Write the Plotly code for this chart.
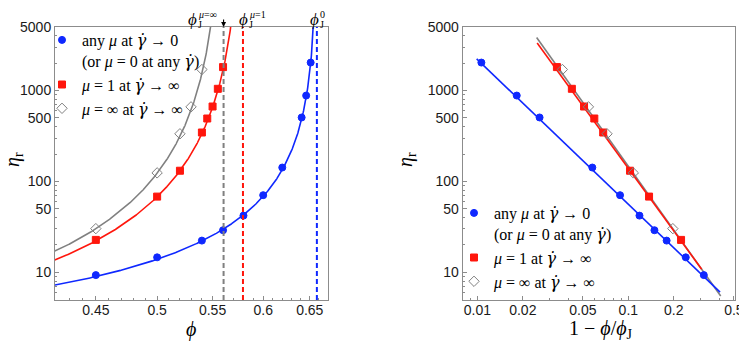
import numpy as np
import plotly.graph_objects as go

# measured points (volume fraction phi, relative viscosity eta_r)
phi_blue = [0.45, 0.50, 0.54, 0.56, 0.58, 0.60, 0.62, 0.641, 0.646, 0.651]
eta_blue = [9.3, 14.6, 22.3, 29, 42, 70.5, 142, 505, 880, 2030]
phi_red = [0.45, 0.50, 0.52, 0.54, 0.545, 0.55, 0.555, 0.56]
eta_red = [22.7, 68, 131, 345, 492, 667, 1044, 1811]
phi_grey = [0.45, 0.50, 0.52, 0.53, 0.54]
eta_grey = [30.2, 124, 334, 661, 1703]

# jamming fractions and power-law fits  eta = A (1 - phi/phiJ)^-beta
phiJ = {"blue": 0.658, "red": 0.5795, "grey": 0.5605}
fit_A = {"blue": 1.43, "red": 0.72, "grey": 0.68}
fit_beta = {"blue": 1.593, "red": 2.286, "grey": 2.334}
fit_xrange = {"blue": [0.0099, 0.405], "red": [0.0249, 0.306], "grey": [0.0247, 0.409]}

colors = {"blue": "rgb(15,40,255)", "red": "rgb(255,22,12)", "grey": "rgb(128,128,128)"}

gd = '<span style="font-family:DejaVu Serif">γ̇</span>'
labels = {
    "blue": f"any <i>μ</i> at <i>{gd}</i> → 0<br>(or <i>μ</i> = 0 at any <i>{gd}</i>)",
    "red": f"<i>μ</i> = 1 at <i>{gd}</i> → ∞",
    "grey": f"<i>μ</i> = ∞ at <i>{gd}</i> → ∞",
}

x_ticks_left = [0.45, 0.5, 0.55, 0.6, 0.65]
x_ticks_right = [0.01, 0.02, 0.05, 0.1, 0.2, 0.5]
y_ticks = [10, 50, 100, 500, 1000, 5000]

points = {"blue": (phi_blue, eta_blue), "red": (phi_red, eta_red), "grey": (phi_grey, eta_grey)}
symbols = {"blue": "circle", "red": "square", "grey": "diamond-open"}

# the page body has an 8px margin, so the figure is sized to the remaining window
OFF = 8
W, H = 747 - OFF, 341 - OFF


def px(x):
    return (x - OFF) / W


def py(y):
    return 1 - (y - OFF) / H


fig = go.Figure()


def fit(key, x):
    return fit_A[key] * np.asarray(x) ** (-fit_beta[key])


# fit curves
for key in ["grey", "red", "blue"]:
    phi = np.linspace(0.41, phiJ[key] * 0.9995, 600)
    fig.add_trace(go.Scatter(x=phi, y=fit(key, 1 - phi / phiJ[key]), mode="lines",
                             line=dict(color=colors[key], width=1.6), showlegend=False,
                             xaxis="x", yaxis="y"))
    xr = np.array(fit_xrange[key])
    fig.add_trace(go.Scatter(x=xr, y=fit(key, xr), mode="lines",
                             line=dict(color=colors[key], width=1.6), showlegend=False,
                             xaxis="x2", yaxis="y2"))

# data markers
for key in ["blue", "red", "grey"]:
    phi, eta = points[key]
    mk = dict(symbol=symbols[key], color=colors[key], size=7 if key != "grey" else 8,
              line=dict(width=1, color=colors[key]))
    fig.add_trace(go.Scatter(x=phi, y=eta, mode="markers", marker=mk, name=labels[key],
                             legend="legend", xaxis="x", yaxis="y"))
    xs = [1 - p / phiJ[key] for p in phi]
    fig.add_trace(go.Scatter(x=xs, y=eta, mode="markers", marker=mk, name=labels[key],
                             legend="legend2", xaxis="x2", yaxis="y2"))

# jamming-point dashed lines
for key in ["grey", "red", "blue"]:
    fig.add_shape(type="line", xref="x", yref="y domain", x0=phiJ[key], x1=phiJ[key],
                  y0=0, y1=1, line=dict(color=colors[key], width=2, dash="5px,3px"))

# bent arrow to phi_J^{mu=inf}
fig.add_annotation(x=np.log10(phiJ["grey"]), y=1, xref="x", yref="y domain", ax=0, ay=-9,
                   showarrow=True, arrowhead=2, arrowsize=0.9, arrowwidth=1.1,
                   arrowcolor="black", text="")
fig.add_shape(type="line", xref="x", yref="y domain", xsizemode="pixel", ysizemode="pixel",
              xanchor=phiJ["grey"], yanchor=1, x0=-12, x1=0, y0=10, y1=10,
              line=dict(color="black", width=1.1))

serif = "Liberation Serif"


def txt(xpx, ypx, text, size, **kw):
    fig.add_annotation(x=px(xpx), y=py(ypx), xref="paper", yref="paper",
                       text=text, showarrow=False, xanchor=kw.pop("xanchor", "left"),
                       yanchor="middle", font=dict(family=serif, size=size, color="black"),
                       borderpad=0, **kw)


# phi_J labels on top of the left panel
for xphi, sup in [(187, "<i>μ</i>=∞"), (238, "<i>μ</i>=1"), (309, "0")]:
    txt(xphi, 19, "<i>ϕ</i>", 17)
    txt(xphi + 10, 15, sup, 10)
    txt(xphi + 10, 24, "J", 10)

# axis titles
txt(14, 160, "<i>η</i><sub>r</sub>", 20, textangle=-90, xanchor="center")
txt(407, 160, "<i>η</i><sub>r</sub>", 20, textangle=-90, xanchor="center")
txt(191, 329, "<i>ϕ</i>", 20, xanchor="center")
txt(601, 329, "1 − <i>ϕ</i>/<i>ϕ</i><sub>J</sub>", 20, xanchor="center")

tickfont = dict(family="Liberation Sans", size=14, color="#1a1a1a")
frame = dict(showline=True, linecolor="#8c8c8c", linewidth=1, mirror=True, showgrid=False,
             zeroline=False, ticks="inside", ticklen=4, tickcolor="#8c8c8c", tickfont=tickfont,
             automargin=False)

minor_left = [round(0.42 + 0.01 * i, 2) for i in range(26)]
minor_left = [v for v in minor_left if v not in x_ticks_left]
minor_right = [0.008, 0.009, 0.03, 0.04, 0.06, 0.07, 0.08, 0.09, 0.3, 0.4]
minor_y = [5, 6, 7, 8, 9, 20, 30, 40, 60, 70, 80, 90, 200, 300, 400, 600, 700, 800, 900,
           2000, 3000, 4000]
minor = lambda vals: dict(tickmode="array", tickvals=vals, ticks="inside", ticklen=2,
                          tickcolor="#8c8c8c", showgrid=False)

legend_style = dict(xanchor="left", yanchor="top", valign="top", bgcolor="rgba(0,0,0,0)",
                    font=dict(family=serif, size=16, color="black"), tracegroupgap=0,
                    itemwidth=30)

ylog = [np.log10(4.95), np.log10(5000)]
ydom = [py(300), py(27)]
fig.update_layout(
    width=W, height=H, margin=dict(l=0, r=0, t=0, b=0, pad=0, autoexpand=False),
    paper_bgcolor="white", plot_bgcolor="white",
    xaxis=dict(domain=[px(55), px(328)], type="log", anchor="y",
               range=[np.log10(0.4195), np.log10(0.6707)], ticklabelstandoff=-3,
               tickmode="array", tickvals=x_ticks_left, ticktext=["0.45", "0.5", "0.55", "0.6", "0.65"],
               minor=minor(minor_left), **frame),
    yaxis=dict(domain=ydom, type="log", anchor="x", range=ylog,
               tickmode="array", tickvals=y_ticks, ticktext=[str(v) for v in y_ticks],
               minor=minor(minor_y), **frame),
    xaxis2=dict(domain=[px(462.7), px(735.3)], type="log", anchor="y2",
                range=[np.log10(0.008), np.log10(0.511)], ticklabelstandoff=-3,
                tickmode="array", tickvals=x_ticks_right, ticktext=[str(v) for v in x_ticks_right],
                minor=minor(minor_right), **frame),
    yaxis2=dict(domain=ydom, type="log", anchor="x2", range=ylog,
                tickmode="array", tickvals=y_ticks, ticktext=[str(v) for v in y_ticks],
                minor=minor(minor_y), **frame),
    legend=dict(x=px(42), y=py(23), **legend_style),
    legend2=dict(x=px(454), y=py(196), **legend_style),
)

fig.write_html("out.html")
